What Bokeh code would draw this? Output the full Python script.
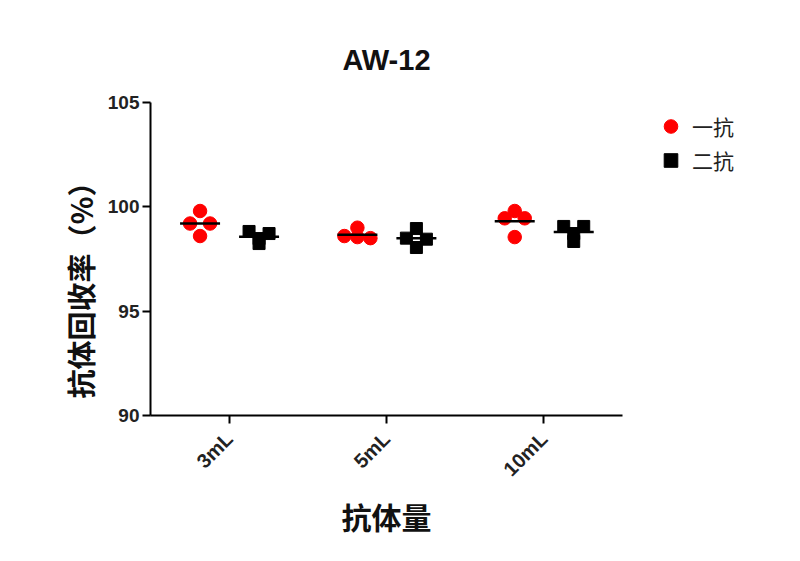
import math
from bokeh.models import ColumnDataSource, FixedTicker, Range1d, Legend, LegendItem, Title
from bokeh.plotting import figure
from bokeh.embed import file_html
from bokeh.resources import INLINE

# data
doses = ["3mL", "5mL", "10mL"]
primary = [            # 一抗
    [99.8, 99.2, 99.2, 98.6],
    [99.0, 98.6, 98.55, 98.5],
    [99.8, 99.45, 99.45, 98.55],
]
secondary = [          # 二抗
    [98.82, 98.72, 98.48, 98.24],
    [98.96, 98.5, 98.45, 98.05],
    [99.06, 99.06, 98.72, 98.34],
]
y_ticks = [90, 95, 100, 105]

FRAME_W, FRAME_H = 472, 313
PX_PER_UNIT = FRAME_W / len(doses)
MEAN_HALF = 20 / PX_PER_UNIT

red = "#ff0000"
black = "#000000"
num_font = "Liberation Sans"
cjk_font = "Noto Sans CJK SC"


def swarm(vals, tol=0.2):
    # spread near-equal values sideways, GraphPad style
    order = sorted(range(len(vals)), key=lambda i: -vals[i])
    rows = []
    for i in order:
        if rows and vals[rows[-1][-1]] - vals[i] <= tol:
            rows[-1].append(i)
        else:
            rows.append([i])
    offs = [0.0] * len(vals)
    for row in rows:
        n = len(row)
        step = 20 if n == 2 else 13
        for k, i in enumerate(row):
            offs[i] = (k - (n - 1) / 2) * step / PX_PER_UNIT
    return offs


def build(series, shift):
    xs, ys, mx, my = [], [], [], []
    for j, vals in enumerate(series):
        c = j + 0.5 + shift
        for v, o in zip(vals, swarm(vals)):
            xs.append(c + o)
            ys.append(v)
        mx.append(c)
        my.append(sum(vals) / len(vals))
    pts = ColumnDataSource(dict(x=xs, y=ys))
    means = ColumnDataSource(dict(x0=[m - MEAN_HALF for m in mx],
                                  x1=[m + MEAN_HALF for m in mx], y=my))
    return pts, means


p = figure(frame_width=FRAME_W, frame_height=FRAME_H,
           x_range=Range1d(0, len(doses)), y_range=Range1d(90, 105),
           min_border_left=150, min_border_right=162,
           min_border_top=102, min_border_bottom=130,
           toolbar_location=None, tools="", output_backend="svg")

p.title.text = "AW-12"
p.title.align = "center"
p.title.text_font = num_font
p.title.text_font_size = "29px"
p.title.text_font_style = "bold"
p.title.text_color = "#111111"
p.title.standoff = 54

p_src, p_mean = build(primary, -0.185)
s_src, s_mean = build(secondary, 0.19)

r1 = p.scatter("x", "y", source=p_src, marker="circle", size=13.5,
               fill_color=red, line_color=red)
r2 = p.scatter("x", "y", source=s_src, marker="square", size=12,
               fill_color=black, line_color=black)
for src in (p_mean, s_mean):
    p.segment(x0="x0", x1="x1", y0="y", y1="y", source=src,
              line_color=black, line_width=2.5)

legend = Legend(items=[LegendItem(label="一抗", renderers=[r1]),
                       LegendItem(label="二抗", renderers=[r2])],
                location=(31, 238), glyph_width=35, glyph_height=34,
                spacing=0, padding=0, margin=0, label_standoff=4,
                label_text_font=cjk_font, label_text_font_size="21px",
                label_text_color="#222222",
                border_line_color=None, background_fill_alpha=0)
p.add_layout(legend, "right")

# y label sits lower than the frame centre in the reference
ylab = Title(text="抗体回收率（%）", align="left", offset=17, standoff=7,
             text_font=cjk_font, text_font_size="29px", text_font_style="bold",
             text_color="#111111")
p.add_layout(ylab, "left")

p.xaxis.ticker = FixedTicker(ticks=[j + 0.5 for j in range(len(doses))])
p.xaxis.major_label_overrides = {j + 0.5: d for j, d in enumerate(doses)}
p.xaxis.major_label_orientation = math.pi / 4
p.xaxis.axis_label = "抗体量"
p.xaxis.axis_label_standoff = 3
p.xaxis.axis_label_text_font = cjk_font
p.xaxis.axis_label_text_font_size = "30px"
p.xaxis.axis_label_text_font_style = "bold"
p.xaxis.axis_label_text_color = "#111111"

p.yaxis.ticker = FixedTicker(ticks=y_ticks)

for ax in (p.xaxis, p.yaxis):
    ax.axis_line_width = 2
    ax.axis_line_color = black
    ax.major_tick_line_width = 2
    ax.major_tick_line_color = black
    ax.major_tick_out = 8
    ax.major_tick_in = 0
    ax.minor_tick_line_color = None
    ax.major_label_text_font = num_font
    ax.major_label_text_font_style = "bold"
    ax.major_label_text_color = "#222222"

p.yaxis.major_label_standoff = 3
p.yaxis.major_label_text_font_size = "19px"
p.xaxis.major_label_standoff = 12
p.xaxis.major_label_text_font_size = "20px"

p.xgrid.grid_line_color = None
p.ygrid.grid_line_color = None
p.outline_line_color = None

open("out.html", "w").write(file_html(p, INLINE))
